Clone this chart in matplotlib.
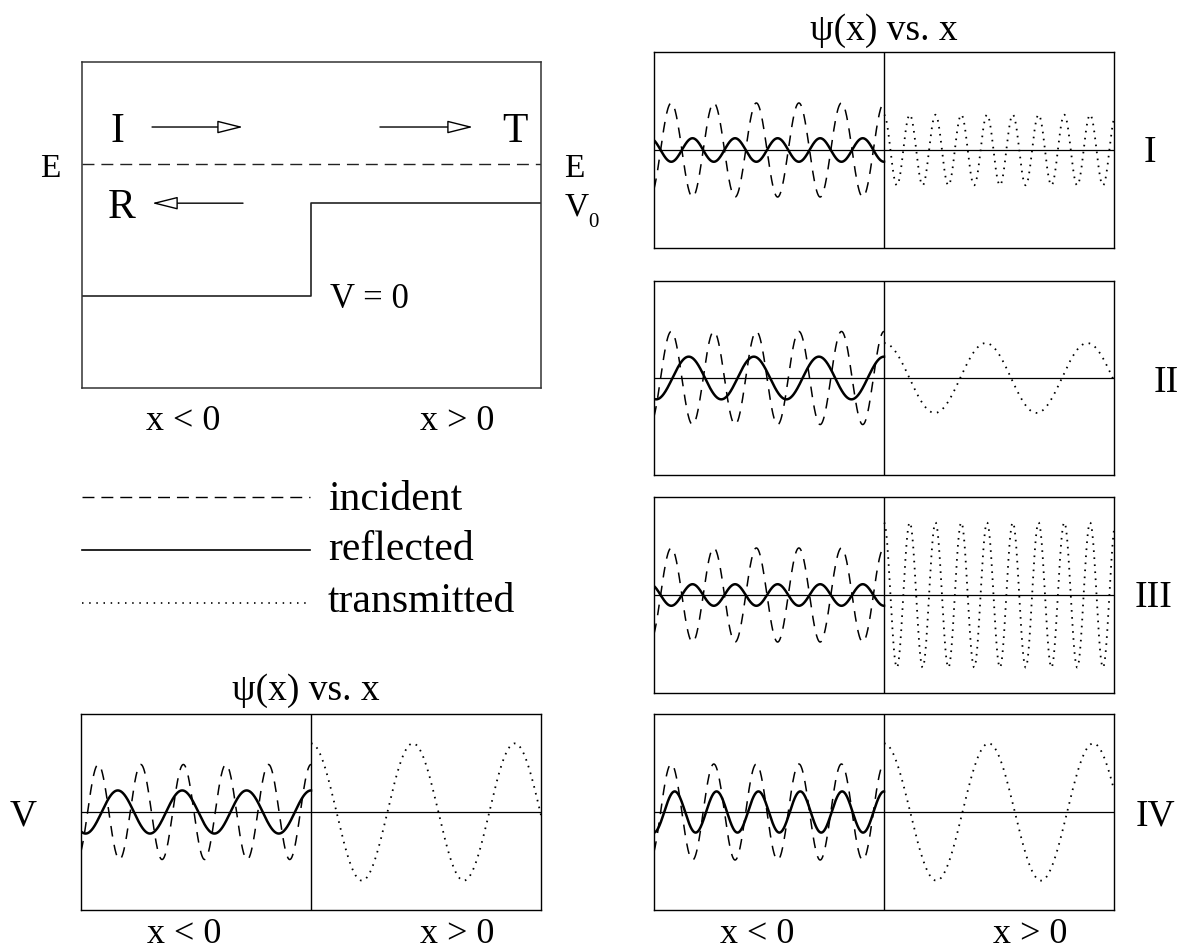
import numpy as np
import matplotlib
matplotlib.use('Agg')
import matplotlib.pyplot as plt

W, H = 1189, 952

# wave panels: amplitude (fraction of half box height) and period (fraction of half box width)
PANELS = ['I', 'II', 'III', 'IV', 'V']
INC_AMP = [0.48, 0.48, 0.48, 0.49, 0.485]
INC_PERIOD = [0.185, 0.185, 0.185, 0.185, 0.185]
REF_AMP = [-0.12, 0.22, -0.11, 0.21, 0.22]
REF_PERIOD = [0.185, 0.283, 0.185, 0.182, 0.28]
TRA_AMP = [0.36, 0.36, 0.74, 0.70, 0.70]
TRA_PERIOD = [0.112, 0.442, 0.112, 0.455, 0.443]

# energy diagram levels
V_LOW = 0.0
V_STEP = 1.0
E_LEVEL = 1.42

LEGEND = ['incident', 'reflected', 'transmitted']

plt.rcParams['font.family'] = 'Liberation Serif'

fig = plt.figure(figsize=(W / 100, H / 100), dpi=100)


def rect(l, t, r, b):
    return [l / W, 1 - b / H, (r - l) / W, (b - t) / H]


def ftext(x, y, s, size, ha='center', va='baseline'):
    fig.text(x / W, 1 - y / H, s, fontsize=size, ha=ha, va=va)


DASH = (0, (7, 5.5))
DOT = (0, (0.9, 3.0))


def wave_panel(box, i):
    ax = fig.add_axes(rect(*box))
    ax.set_xlim(-1, 1)
    ax.set_ylim(-1, 1)
    ax.set_xticks([])
    ax.set_yticks([])
    for s in ax.spines.values():
        s.set_linewidth(1.0)
    ax.axhline(0, color='black', lw=0.9)
    ax.axvline(0, color='black', lw=1.0)
    xl = np.linspace(-1, 0, 800)
    xr = np.linspace(0, 1, 800)
    ax.plot(xl, INC_AMP[i] * np.cos(2 * np.pi * xl / INC_PERIOD[i]), color='black', lw=1.1, linestyle=DASH)
    ax.plot(xl, REF_AMP[i] * np.cos(2 * np.pi * xl / REF_PERIOD[i]), color='black', lw=1.8)
    ax.plot(xr, TRA_AMP[i] * np.cos(2 * np.pi * xr / TRA_PERIOD[i]), color='black', lw=1.3, linestyle=DOT)
    return ax


# energy diagram
ax = fig.add_axes(rect(81.5, 62, 541, 388))
ax.set_xlim(-1, 1)
ax.set_ylim(-0.99, 2.52)
ax.set_xticks([])
ax.set_yticks([])
for s in ax.spines.values():
    s.set_linewidth(1.1)
    s.set_color('#333333')
ax.plot([-1, 0, 0, 1], [V_LOW, V_LOW, V_STEP, V_STEP], color='#222222', lw=1.2)
ax.plot([-1, 1], [E_LEVEL, E_LEVEL], color='#222222', lw=1.0, linestyle=(0, (8.6, 5)))
arrow = dict(arrowstyle='-|>,head_length=1.6,head_width=0.4', fc='white', ec='black',
             lw=1.0, shrinkA=0, shrinkB=0, mutation_scale=10)
ax.annotate('', xy=(-0.297, 1.82), xytext=(-0.693, 1.82), arrowprops=arrow)
ax.annotate('', xy=(0.704, 1.82), xytext=(0.299, 1.82), arrowprops=arrow)
ax.annotate('', xy=(-0.693, V_STEP), xytext=(-0.297, V_STEP), arrowprops=arrow)
ax.text(-0.845, 1.656, 'I', fontsize=30, ha='center', va='baseline')
ax.text(0.887, 1.656, 'T', fontsize=30, ha='center', va='baseline')
ax.text(-0.824, 0.839, 'R', fontsize=30, ha='center', va='baseline')
ax.text(0.082, -0.129, 'V = 0', fontsize=25, ha='left', va='baseline')

ftext(50.5, 177, 'E', 24)
ftext(574.5, 177, 'E', 24)
ftext(576.5, 215, 'V', 24)
ftext(593, 227, '0', 15)
ftext(183, 430, 'x < 0', 26)
ftext(457, 430, 'x > 0', 26)

# legend
styles = [dict(linestyle=(0, (8.6, 5)), lw=1.0), dict(linestyle='-', lw=1.2), dict(linestyle=(0, (0.9, 3.4)), lw=1.2)]
ys = [497, 550, 603]
bases = [510, 560, 612]
for name, st, y, b in zip(LEGEND, styles, ys, bases):
    fig.add_artist(plt.Line2D([82 / W, 310 / W], [1 - y / H, 1 - y / H], color='black', **st))
    ftext(328, b, name, 30, ha='left')

# wave panels
boxes = [(654, 52, 1114, 248), (654, 281, 1114, 475), (654, 497, 1114, 693),
         (654, 714, 1114, 910), (81, 714, 541, 910)]
for i, box in enumerate(boxes):
    wave_panel(box, i)

label_pos = [(1150, 162), (1166, 392), (1154, 607), (1155, 825), (23.5, 825)]
for name, (x, y) in zip(PANELS, label_pos):
    ftext(x, y, name, 27)

ftext(884, 40, 'ψ(x) vs. x', 27)
ftext(306, 700, 'ψ(x) vs. x', 27)
for left in (654, 81):
    ftext(left + 103, 943, 'x < 0', 26)
    ftext(left + 376, 943, 'x > 0', 26)

fig.savefig('out.png', dpi=100)
